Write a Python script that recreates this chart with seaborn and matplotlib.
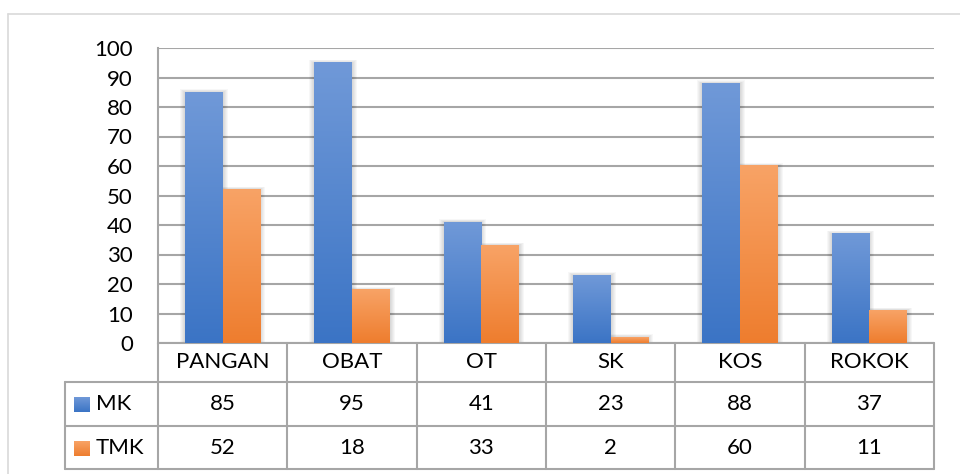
import numpy as np
import pandas as pd
import matplotlib
matplotlib.use("Agg")
import matplotlib.pyplot as plt
from matplotlib.lines import Line2D
from matplotlib.patches import Rectangle
from matplotlib.colors import LinearSegmentedColormap
import matplotlib.transforms as mtransforms
import seaborn as sns

categories = ["PANGAN", "OBAT", "OT", "SK", "KOS", "ROKOK"]
series_names = ["MK", "TMK"]
mk_values = [85, 95, 41, 23, 88, 37]
tmk_values = [52, 18, 33, 2, 60, 11]
y_ticks = [0, 10, 20, 30, 40, 50, 60, 70, 80, 90, 100]

df = pd.DataFrame({
    "kategori": categories * 2,
    "seri": [series_names[0]] * len(categories) + [series_names[1]] * len(categories),
    "nilai": mk_values + tmk_values,
})

sns.set_theme(style="white")
plt.rcParams["font.family"] = ["Lato", "DejaVu Sans"]

FS = 16
GRID = "#A6A6A6"
TEXT = "#000000"
blue_top, blue_bot = "#7099D8", "#3B74C5"
orange_top, orange_bot = "#F8A366", "#EE7D2E"

fig = plt.figure(figsize=(9.6, 4.74), dpi=100)
W, H = 960, 474
ax = fig.add_axes([158 / W, 1 - 343 / H, (934 - 158) / W, (343 - 48) / H])

palette = {"MK": blue_bot, "TMK": orange_bot}
sns.barplot(data=df, x="kategori", y="nilai", hue="seri", order=categories,
            hue_order=series_names, palette=palette, width=0.58, gap=0,
            saturation=1, errorbar=None, legend=False, ax=ax, zorder=3,
            linewidth=0, edgecolor="none")

ax.set_xlim(-0.5, len(categories) - 0.5)
ax.set_ylim(0, 100)
ax.set_yticks(y_ticks)
ax.set_yticklabels([str(t) for t in y_ticks], fontsize=FS, color=TEXT)
ax.tick_params(axis="y", length=0, pad=18)
ax.set_xticks([])
ax.set_xlabel("")
ax.set_ylabel("")
for t in y_ticks:
    ax.axhline(t, color=GRID, lw=1.5, zorder=1)
for side in ["top", "right", "bottom"]:
    ax.spines[side].set_visible(False)
ax.spines["left"].set_color(GRID)
ax.spines["left"].set_linewidth(1.5)

# gradient fill and soft shadow for each bar
px_x = len(categories) / (934 - 158)
px_y = 100 / (343 - 48)
grad = np.linspace(1, 0, 256).reshape(-1, 1)
cmaps = {
    "MK": LinearSegmentedColormap.from_list("mk", [blue_bot, blue_top]),
    "TMK": LinearSegmentedColormap.from_list("tmk", [orange_bot, orange_top]),
}
bars = [p for p in ax.patches if isinstance(p, Rectangle) and p.get_height() > 0]
n = len(categories)
for i, p in enumerate(bars):
    name = series_names[0] if i < n else series_names[1]
    x0, w, h = p.get_x(), p.get_width(), p.get_height()
    for k in range(1, 6):
        ax.add_patch(Rectangle((x0 - k * px_x, 0), w + 2 * k * px_x,
                               h + k * px_y * 0.6, facecolor="#000000",
                               edgecolor="none", linewidth=0, alpha=0.03,
                               zorder=2))
    ax.imshow(grad, cmap=cmaps[name], aspect="auto",
              extent=(x0, x0 + w, 0, h), origin="upper", zorder=4,
              interpolation="bilinear")
ax.set_xlim(-0.5, len(categories) - 0.5)
ax.set_ylim(0, 100)

# data table below the plot
trans = mtransforms.blended_transform_factory(ax.transData, ax.transAxes)
tra = ax.transAxes
row_lines = [0, -39 / 295, -83 / 295, -126 / 295]
left_box = (65 - 158) / (934 - 158)
edges = [i - 0.5 for i in range(len(categories) + 1)]

for e in edges:
    ax.add_line(Line2D([e, e], [row_lines[0], row_lines[3]], transform=trans,
                       color=GRID, lw=1.5, clip_on=False))
for y in row_lines:
    x_start = left_box if y != row_lines[0] else 0
    ax.add_line(Line2D([x_start, 1], [y, y], transform=tra, color=GRID, lw=1.5,
                       clip_on=False))
ax.add_line(Line2D([left_box, left_box], [row_lines[1], row_lines[3]],
                   transform=tra, color=GRID, lw=1.5, clip_on=False))

row_centers = [(row_lines[i] + row_lines[i + 1]) / 2 for i in range(3)]
for i, c in enumerate(categories):
    ax.text(i, row_centers[0], c, transform=trans, ha="center", va="center",
            fontsize=FS, color=TEXT)
    ax.text(i, row_centers[1], str(mk_values[i]), transform=trans, ha="center",
            va="center", fontsize=FS, color=TEXT)
    ax.text(i, row_centers[2], str(tmk_values[i]), transform=trans, ha="center",
            va="center", fontsize=FS, color=TEXT)

# legend keys inside the table
key_w = 16 / 776
key_h = 14 / 295
key_x = (74 - 158) / 776
for r, name in enumerate(series_names):
    yc = row_centers[r + 1]
    ax.imshow(grad, cmap=cmaps[name], aspect="auto", transform=tra,
              extent=(key_x, key_x + key_w, yc - key_h / 2 - 0.005, yc + key_h / 2 - 0.005),
              origin="upper", clip_on=False, zorder=5)
    ax.text(key_x + key_w + 6 / 776, yc, name, transform=tra, ha="left",
            va="center", fontsize=FS, color=TEXT)

# chart area border
fig.add_artist(Line2D([8 / W, 8 / W], [0, 1 - 14 / H], transform=fig.transFigure,
                      color="#D9D9D9", lw=1.2))
fig.add_artist(Line2D([8 / W, 1], [1 - 14 / H, 1 - 14 / H], transform=fig.transFigure,
                      color="#D9D9D9", lw=1.2))

fig.savefig("out.png", dpi=100)
